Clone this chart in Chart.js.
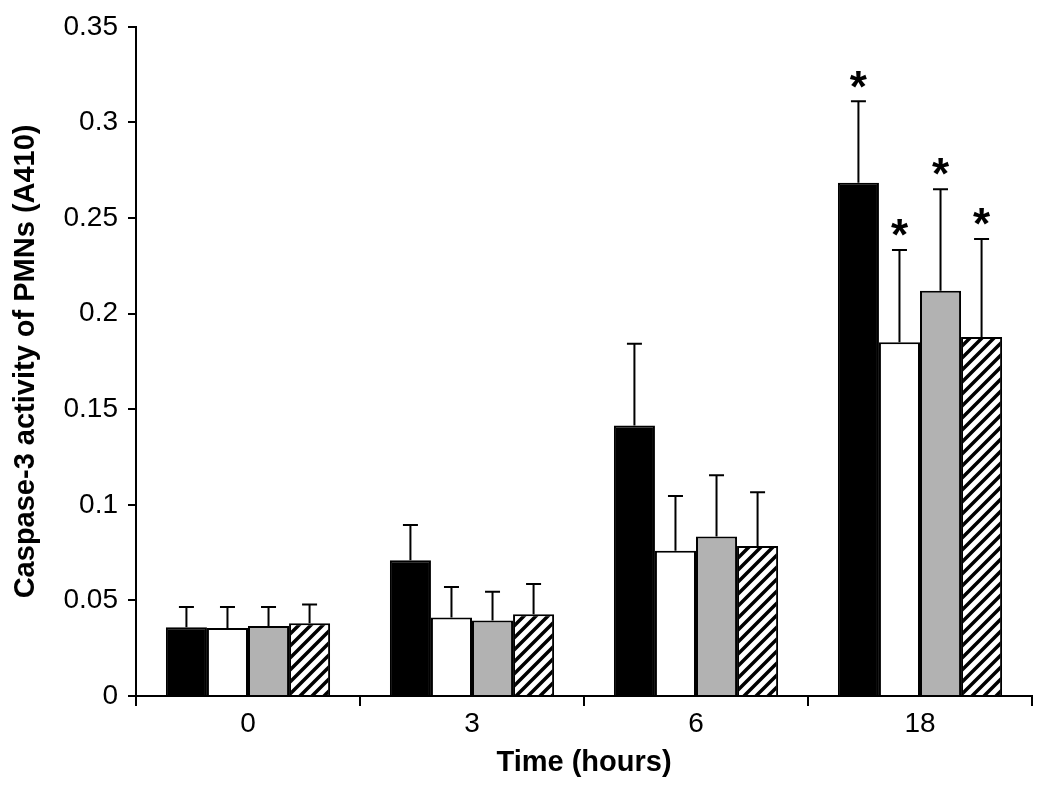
<!DOCTYPE html>
<html>
<head>
<meta charset="utf-8">
<script src="https://cdn.jsdelivr.net/npm/chart.js@4.4.1/dist/chart.umd.min.js"></script>
<style>
  html, body { margin: 0; padding: 0; background: #fff; }
</style>
</head>
<body>
<canvas id="caspaseChart" width="1050" height="789"></canvas>
<script>
// time points (hours)
const timepoints = ["0", "3", "6", "18"];

// mean caspase-3 activity (A410) per group
const blackVals   = [0.036, 0.071, 0.1415, 0.2685];
const whiteVals   = [0.0355, 0.041, 0.076, 0.185];
const grayVals    = [0.0366, 0.0395, 0.0834, 0.212];
const hatchedVals = [0.038, 0.0428, 0.0784, 0.1878];

// upper error (SD) per group
const blackErr   = [0.0105, 0.0185, 0.0427, 0.0425];
const whiteErr   = [0.011, 0.016, 0.0286, 0.0483];
const grayErr    = [0.0099, 0.015, 0.0321, 0.053];
const hatchedErr = [0.0099, 0.0158, 0.0281, 0.0512];

// significance marks (*)
const blackSig   = [false, false, false, true];
const whiteSig   = [false, false, false, true];
const graySig    = [false, false, false, true];
const hatchedSig = [false, false, false, true];

const yTicks = [0, 0.05, 0.1, 0.15, 0.2, 0.25, 0.3, 0.35];

const FONT = "'Liberation Sans', Arial, Helvetica, sans-serif";

function makeHatch() {
  const size = 12;
  const c = document.createElement("canvas");
  c.width = size;
  c.height = size;
  const g = c.getContext("2d");
  g.fillStyle = "#fff";
  g.fillRect(0, 0, size, size);
  g.strokeStyle = "#000";
  g.lineWidth = 3.5;
  g.beginPath();
  g.moveTo(0, size); g.lineTo(size, 0);
  g.moveTo(-size / 2, size / 2); g.lineTo(size / 2, -size / 2);
  g.moveTo(size / 2, size * 1.5); g.lineTo(size * 1.5, size / 2);
  g.stroke();
  return g.createPattern(c, "repeat");
}

// error bars (upper only) + asterisks
const errorBarPlugin = {
  id: "errorBars",
  afterDatasetsDraw(chart) {
    const ctx = chart.ctx;
    const yScale = chart.scales.y;
    ctx.save();
    ctx.strokeStyle = "#000";
    ctx.fillStyle = "#000";
    ctx.lineWidth = 2;
    ctx.font = "bold 44px " + FONT;
    ctx.textAlign = "center";
    ctx.textBaseline = "middle";
    chart.data.datasets.forEach((ds, di) => {
      const meta = chart.getDatasetMeta(di);
      meta.data.forEach((bar, i) => {
        const top = yScale.getPixelForValue(ds.data[i] + ds.errors[i]);
        ctx.beginPath();
        ctx.moveTo(bar.x, bar.y);
        ctx.lineTo(bar.x, top);
        ctx.moveTo(bar.x - 7.5, top);
        ctx.lineTo(bar.x + 7.5, top);
        ctx.stroke();
        if (ds.stars[i]) {
          ctx.fillText("*", bar.x, top - 12);
        }
      });
    });
    ctx.restore();
  }
};

const mkSet = (label, data, errors, stars, fill) => ({
  label: label,
  data: data,
  errors: errors,
  stars: stars,
  backgroundColor: fill,
  borderColor: "#000",
  borderWidth: 2,
  categoryPercentage: 0.733,
  barPercentage: 1.0
});

const ctx = document.getElementById("caspaseChart").getContext("2d");

new Chart(ctx, {
  type: "bar",
  data: {
    labels: timepoints,
    datasets: [
      mkSet("black", blackVals, blackErr, blackSig, "#000000"),
      mkSet("white", whiteVals, whiteErr, whiteSig, "#ffffff"),
      mkSet("gray", grayVals, grayErr, graySig, "#b2b2b2"),
      mkSet("hatched", hatchedVals, hatchedErr, hatchedSig, makeHatch())
    ]
  },
  options: {
    responsive: false,
    animation: false,
    layout: { padding: { top: 24, right: 18, bottom: 0, left: 0 } },
    plugins: {
      legend: { display: false },
      tooltip: { enabled: false }
    },
    scales: {
      x: {
        grid: {
          offset: true,
          drawOnChartArea: false,
          drawTicks: true,
          tickLength: 10,
          color: "#000",
          lineWidth: 2
        },
        border: { display: true, color: "#000", width: 2 },
        ticks: {
          color: "#000",
          font: { family: FONT, size: 28 },
          padding: 1,
          maxRotation: 0
        },
        title: {
          display: true,
          text: "Time (hours)",
          color: "#000",
          font: { family: FONT, size: 29, weight: "bold" },
          padding: { top: 0, bottom: 9 }
        },
        afterFit(scale) { scale.height = 93; }
      },
      y: {
        min: 0,
        max: 0.35,
        afterBuildTicks(scale) {
          scale.ticks = yTicks.map(v => ({ value: v }));
        },
        grid: {
          drawOnChartArea: false,
          drawTicks: true,
          tickLength: 8,
          color: "#000",
          lineWidth: 2
        },
        border: { display: true, color: "#000", width: 2 },
        ticks: {
          color: "#000",
          font: { family: FONT, size: 28 },
          padding: 10,
          callback: v => String(parseFloat(Number(v).toFixed(2)))
        },
        title: {
          display: true,
          text: "Caspase-3 activity of PMNs (A410)",
          color: "#000",
          font: { family: FONT, size: 29, weight: "bold" },
          padding: { top: 9, bottom: 0 }
        },
        afterFit(scale) { scale.width = 136; }
      }
    }
  },
  plugins: [errorBarPlugin]
});
</script>
</body>
</html>
